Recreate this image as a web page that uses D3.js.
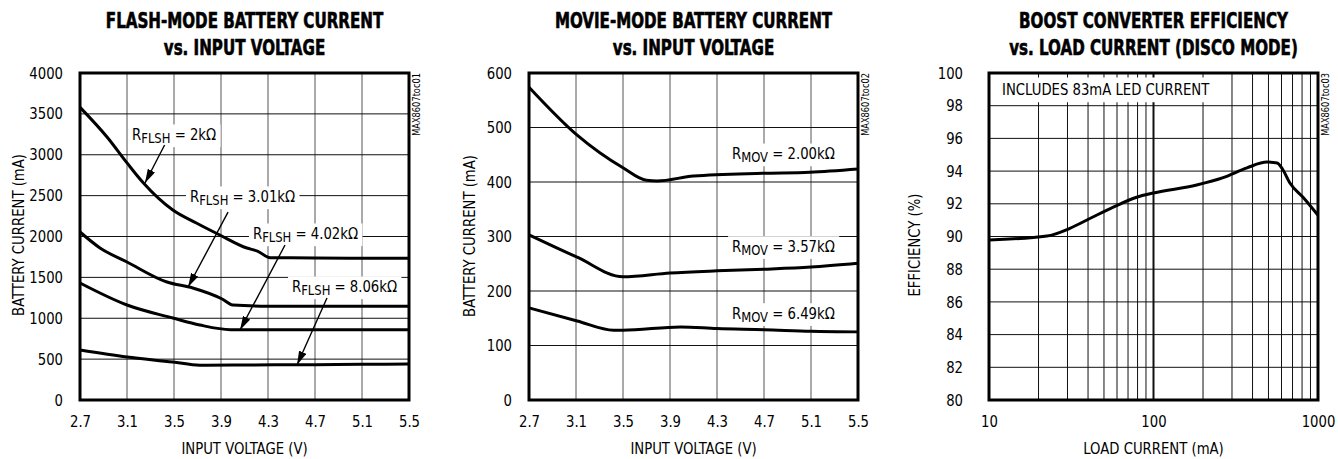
<!DOCTYPE html>
<html><head><meta charset="utf-8">
<script src="https://cdn.jsdelivr.net/npm/d3@7"></script>
<style>
body{margin:0;background:#fff}
text{font-family:"Liberation Sans Narrow","Arial Narrow","DejaVu Sans Condensed",sans-serif;fill:#000}
.title{font-weight:bold;font-size:21px;stroke:#000;stroke-width:0.6px}
</style></head><body>
<svg id="c" width="1338" height="459"></svg>
<script>
// ---------- DATA ----------
const voltTicks = [2.7, 3.1, 3.5, 3.9, 4.3, 4.7, 5.1, 5.5];
const flashTicks = [0, 500, 1000, 1500, 2000, 2500, 3000, 3500, 4000];
const movieTicks = [0, 100, 200, 300, 400, 500, 600];
const effTicks = [80, 82, 84, 86, 88, 90, 92, 94, 96, 98, 100];
const loadTicks = [10, 100, 1000];
const loadGrid = [20,30,40,50,60,70,80,90,100,200,300,400,500,600,700,800,900];

// Flash mode curves
const flash2kV    = [2.7, 2.93, 3.1, 3.24, 3.49, 3.69, 3.89, 4.12, 4.21, 4.32, 4.7, 5.1, 5.5];
const flash2kI    = [3580, 3217, 2900, 2654, 2324, 2165, 2018, 1859, 1822, 1740, 1738, 1735, 1735];
const flash301V   = [2.7, 2.87, 3.1, 3.44, 3.66, 3.91, 4.0, 4.3, 4.7, 5.1, 5.5];
const flash301I   = [2055, 1860, 1688, 1443, 1370, 1235, 1162, 1148, 1146, 1146, 1146];
const flash402V   = [2.7, 3.1, 3.49, 3.72, 3.98, 4.3, 4.7, 5.1, 5.5];
const flash402I   = [1431, 1162, 1003, 917, 860, 860, 860, 860, 860];
const flash806V   = [2.7, 3.1, 3.49, 3.72, 4.0, 4.7, 5.1, 5.5];
const flash806I   = [611, 526, 465, 425, 428, 432, 436, 440];

// Movie mode curves
const movie200V = [2.7, 3.11, 3.5, 3.7, 3.79, 4.1, 4.69, 5.09, 5.5];
const movie200I = [574, 486, 426, 403, 402, 411, 416, 418, 424];
const movie357V = [2.7, 3.11, 3.5, 3.9, 4.3, 4.7, 5.1, 5.5];
const movie357I = [303, 262, 226, 233, 237, 240, 244, 251];
const movie649V = [2.7, 3.11, 3.42, 3.5, 3.99, 4.3, 4.7, 5.1, 5.5];
const movie649I = [169, 145, 128, 128, 134, 131, 129, 126, 125];

// Efficiency curve
const effLoad = [10, 22.5, 31, 41, 57, 79, 100, 183, 265, 370, 490, 564, 613, 675, 811, 1000];
const effVal  = [89.79, 90.03, 90.5, 91.1, 91.8, 92.4, 92.66, 93.15, 93.6, 94.2, 94.55, 94.5, 94.07, 93.27, 92.4, 91.3];

// ---------- DRAW ----------
const svg = d3.select("#c");
const plotTop = 73, plotBottom = 400;
const NARROW = 0.92, TNARROW = 0.8;

const defs = svg.append("defs");
defs.append("marker").attr("id","ah").attr("viewBox","0 0 14 8").attr("refX",14).attr("refY",4)
  .attr("markerWidth",14).attr("markerHeight",8).attr("markerUnits","userSpaceOnUse").attr("orient","auto")
  .append("path").attr("d","M0,0 L14,4 L0,8 Z").attr("fill","#000");

function zip(a,b){ return a.map((v,i)=>[v,b[i]]); }

function label(g, x, y, parts, pad){
  const t = g.append("text").attr("x",0).attr("y",0).style("font-size","16px")
    .attr("transform",`translate(${x},${y}) scale(${NARROW},1)`);
  parts.forEach((p,i)=>{
    const ts = t.append("tspan").text(p.t);
    if (p.sub){ ts.style("font-size","14px").attr("dy",3); }
    else if (i>0 && parts[i-1].sub){ ts.attr("dy",-3); }
  });
  const bb = t.node().getBBox();
  g.insert("rect", function(){ return t.node(); })
    .attr("x", x + bb.x*NARROW - pad[0]).attr("y", y + bb.y - pad[1])
    .attr("width", bb.width*NARROW + 2*pad[0]).attr("height", bb.height + 2*pad[1])
    .attr("fill","#fff");
  return t;
}

function arrow(g, x1,y1,x2,y2){
  g.append("line").attr("x1",x1).attr("y1",y1).attr("x2",x2).attr("y2",y2)
   .attr("stroke","#000").attr("stroke-width",1.4).attr("marker-end","url(#ah)");
}

function chart(cfg){
  const g = svg.append("g");
  const x = cfg.log ? d3.scaleLog().domain(cfg.xDomain).range([cfg.left,cfg.right])
                    : d3.scaleLinear().domain(cfg.xDomain).range([cfg.left,cfg.right]);
  const y = d3.scaleLinear().domain(cfg.yDomain).range([plotBottom, plotTop]);
  // grid
  const grid = g.append("g");
  grid.selectAll("line.v").data(cfg.xGrid).join("line")
    .attr("x1",d=>x(d)).attr("x2",d=>x(d)).attr("y1",plotTop).attr("y2",plotBottom)
    .attr("stroke",cfg.vColor).attr("stroke-width",d=> (cfg.log && d===100) ? 2 : 1);
  grid.selectAll("line.h").data(cfg.yTicks).join("line")
    .attr("y1",d=>y(d)).attr("y2",d=>y(d)).attr("x1",cfg.left).attr("x2",cfg.right)
    .attr("stroke","#111").attr("stroke-width",1);
  // axes labels via d3 axis
  const yAx = g.append("g").attr("transform",`translate(${cfg.left - cfg.yGap},0)`)
    .call(d3.axisLeft(y).tickValues(cfg.yTicks).tickSize(0).tickPadding(0).tickFormat(d3.format("d")));
  yAx.select(".domain").remove();
  yAx.selectAll("text").style("font-size","16px").attr("transform",`scale(${NARROW},1)`);
  yAx.attr("font-family",null).attr("font-size",null);
  const xAx = g.append("g").attr("transform",`translate(0,${plotBottom})`)
    .call(d3.axisBottom(x).tickValues(cfg.xTicks).tickSize(0).tickPadding(0).tickFormat(cfg.xFmt));
  xAx.select(".domain").remove();
  xAx.selectAll("text").attr("dy",null).attr("y",27).style("font-size","16px").attr("transform",`scale(${NARROW},1)`);
  xAx.attr("font-family",null).attr("font-size",null);

  // curves
  const line = d3.line().x(d=>x(d[0])).y(d=>y(d[1])).curve(d3.curveMonotoneX);
  cfg.series.forEach(s=>{
    g.append("path").attr("d",line(s)).attr("fill","none").attr("stroke","#000")
      .attr("stroke-width",3).attr("stroke-linejoin","round");
  });
  // annotations
  const ann = g.append("g");
  (cfg.labels||[]).forEach(l=>{
    label(ann, x(l.x), y(l.y), l.parts, l.pad || [4,1]);
  });
  (cfg.arrows||[]).forEach(a=>{
    arrow(ann, x(a[0]), y(a[1]), x(a[2]), y(a[3]));
  });
  // frame
  g.append("rect").attr("x",cfg.left).attr("y",plotTop).attr("width",cfg.right-cfg.left).attr("height",plotBottom-plotTop)
    .attr("fill","none").attr("stroke","#000").attr("stroke-width",3);

  // titles
  const cx = (cfg.left+cfg.right)/2;
  g.append("text").attr("class","title").attr("transform",`translate(${cx},28) scale(${TNARROW},1)`)
    .attr("text-anchor","middle").text(cfg.title[0]);
  g.append("text").attr("class","title").attr("transform",`translate(${cx},55) scale(${TNARROW},1)`)
    .attr("text-anchor","middle").text(cfg.title[1]);
  g.append("text").attr("transform",`translate(${cx},454) scale(${NARROW},1)`)
    .attr("text-anchor","middle").style("font-size","16px").text(cfg.xTitle);
  g.append("text").attr("transform",`translate(${cfg.yTitleX},${cfg.yTitleY}) rotate(-90) scale(${NARROW},1)`)
    .attr("text-anchor","middle").style("font-size","16px").text(cfg.yTitle);
  g.append("text").attr("transform",`translate(${cfg.right+11},${plotTop}) rotate(-90) scale(${NARROW},1)`)
    .attr("text-anchor","end").style("font-size","10px").text(cfg.code);
}

const R = (sub, rest) => [{t:"R"},{t:sub,sub:true},{t:rest}];

chart({
  left:80, right:409, xDomain:[2.7,5.5], yDomain:[0,4000], xTicks:voltTicks, xGrid:voltTicks, yTicks:flashTicks,
  xFmt:d3.format(".1f"), yGap:17, vColor:"#555",
  series:[zip(flash2kV,flash2kI), zip(flash301V,flash301I), zip(flash402V,flash402I), zip(flash806V,flash806I)],
  title:["FLASH-MODE BATTERY CURRENT","vs. INPUT VOLTAGE"], xTitle:"INPUT VOLTAGE (V)",
  yTitle:"BATTERY CURRENT (mA)", yTitleX:24, yTitleY:235, code:"MAX8607toc01",
  labels:[
    {x:3.143, y:3180, parts:R("FLSH"," = 2k\u03A9")},
    {x:3.636, y:2422, parts:R("FLSH"," = 3.01k\u03A9")},
    {x:4.172, y:1969, parts:R("FLSH"," = 4.02k\u03A9")},
    {x:4.504, y:1321, parts:R("FLSH"," = 8.06k\u03A9")}
  ],
  arrows:[[3.42,3119,3.253,2654],[3.96,2299,3.62,1382],[4.445,1896,4.062,856],[4.802,1247,4.547,428]]
});

chart({
  left:529, right:858, xDomain:[2.7,5.5], yDomain:[0,600], xTicks:voltTicks, xGrid:voltTicks, yTicks:movieTicks,
  xFmt:d3.format(".1f"), yGap:17, vColor:"#555",
  series:[zip(movie200V,movie200I), zip(movie357V,movie357I), zip(movie649V,movie649I)],
  title:["MOVIE-MODE BATTERY CURRENT","vs. INPUT VOLTAGE"], xTitle:"INPUT VOLTAGE (V)",
  yTitle:"BATTERY CURRENT (mA)", yTitleX:475, yTitleY:236, code:"MAX8607toc02",
  labels:[
    {x:4.428, y:442, parts:R("MOV"," = 2.00k\u03A9")},
    {x:4.428, y:272, parts:R("MOV"," = 3.57k\u03A9")},
    {x:4.428, y:149, parts:R("MOV"," = 6.49k\u03A9")}
  ]
});

chart({
  left:989, right:1318, log:true, xDomain:[10,1000], yDomain:[80,100], xTicks:loadTicks, xGrid:loadGrid, yTicks:effTicks,
  xFmt:d3.format("d"), yGap:26, vColor:"#111",
  series:[zip(effLoad,effVal)],
  title:["BOOST CONVERTER EFFICIENCY","vs. LOAD CURRENT (DISCO MODE)"], xTitle:"LOAD CURRENT (mA)",
  yTitle:"EFFICIENCY (%)", yTitleX:920, yTitleY:245, code:"MAX8607toc03",
  labels:[{x:12, y:98.65, parts:[{t:"INCLUDES 83mA LED CURRENT"}], pad:[7,3]}]
});
</script>
</body></html>
